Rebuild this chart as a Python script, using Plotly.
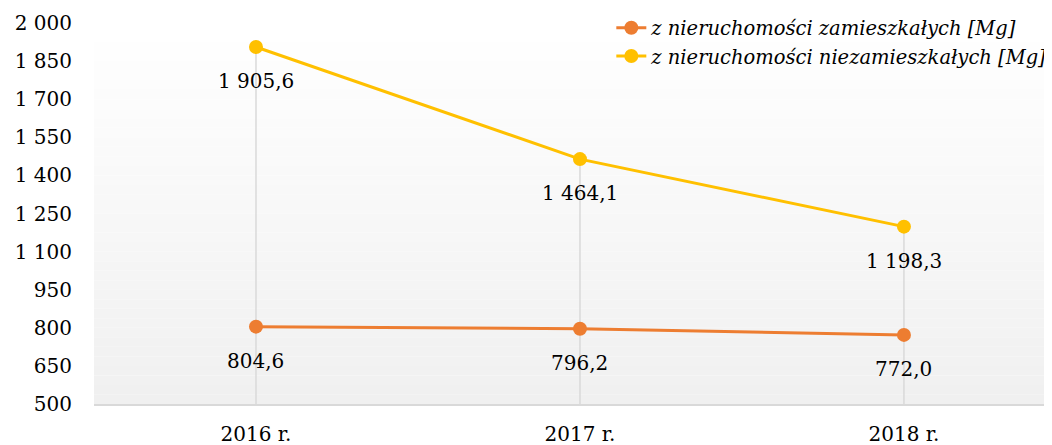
import plotly.graph_objects as go

categories = ["2016 r.", "2017 r.", "2018 r."]
zamieszkale = [804.6, 796.2, 772.0]
niezamieszkale = [1905.6, 1464.1, 1198.3]
series_names = ["z nieruchomości zamieszkałych [Mg]", "z nieruchomości niezamieszkałych [Mg]"]
y_ticks = [500, 650, 800, 950, 1100, 1250, 1400, 1550, 1700, 1850, 2000]

ORANGE = "#ED7D31"
YELLOW = "#FFC000"
FONT = "DejaVu Serif"

fig = go.Figure()

# drop lines from highest point to axis
dx, dy = [], []
for c, a, b in zip(categories, zamieszkale, niezamieszkale):
    dx += [c, c, None]
    dy += [y_ticks[0], max(a, b), None]
fig.add_trace(go.Scatter(x=dx, y=dy, mode="lines", line=dict(color="#d9d9d9", width=1.5),
                         hoverinfo="skip", showlegend=False))

for name, vals, col in [(series_names[0], zamieszkale, ORANGE), (series_names[1], niezamieszkale, YELLOW)]:
    fig.add_trace(go.Scatter(x=categories, y=vals, mode="lines+markers", name=f"<i>{name}</i>",
                             line=dict(color=col, width=3), marker=dict(color=col, size=14)))
    for c, v in zip(categories, vals):
        fig.add_annotation(x=c, y=v, text=f"{v:,.1f}".replace(",", " ").replace(".", ","),
                           showarrow=False, yshift=-34, font=dict(family=FONT, size=20, color="#000"))

# gradient background bands
n = 40
for i in range(n):
    t = i / (n - 1)
    g = int(round(255 - t * (255 - 240)))
    fig.add_shape(type="rect", xref="paper", yref="paper", x0=0, x1=1,
                  y0=1 - (i + 1) / n, y1=1 - i / n, fillcolor=f"rgb({g},{g},{g})",
                  line=dict(width=0), layer="below")

fig.update_layout(
    width=1044, height=437,
    margin=dict(l=86, r=0, t=15, b=41, autoexpand=False),
    paper_bgcolor="white", plot_bgcolor="white",
    separators=", ",
    font=dict(family=FONT, size=20, color="#000"),
    showlegend=True,
    legend=dict(x=0.540, xanchor="left", y=1.038, yanchor="top", bgcolor="rgba(0,0,0,0)",
                font=dict(family=FONT, size=19.5), tracegroupgap=0),
    xaxis=dict(type="category", range=[-0.5, 2.457], showgrid=False, showline=True,
               linecolor="#d9d9d9", linewidth=1.5, ticks="outside", ticklen=11,
               tickcolor="rgba(0,0,0,0)", zeroline=False, automargin=False),
    yaxis=dict(range=[500, 2000], tickvals=y_ticks, tickformat=",d", showgrid=False,
               showline=False, zeroline=False, ticks="outside", ticklen=17,
               tickcolor="rgba(0,0,0,0)", automargin=False),
)

fig.write_html("out.html")
